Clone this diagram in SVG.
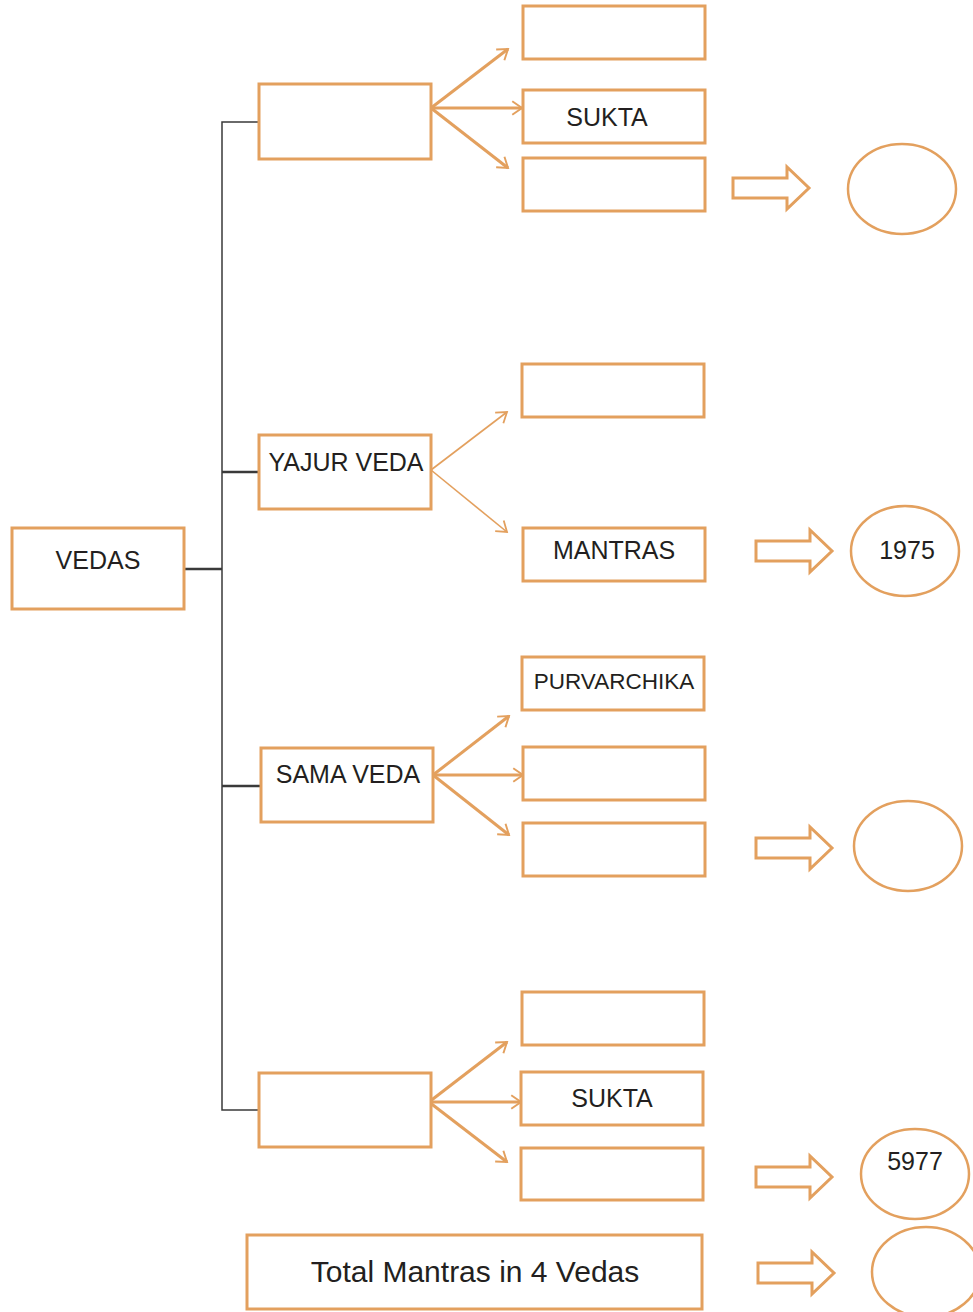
<svg xmlns="http://www.w3.org/2000/svg" width="973" height="1312" viewBox="0 0 973 1312">
  <defs>
    <style>
      .box { fill: #fff; stroke: #E3A05E; stroke-width: 3; }
      .oval { fill: #fff; stroke: #E3A05E; stroke-width: 2.5; }
      .block { fill: #fff; stroke: #E3A05E; stroke-width: 3; stroke-linejoin: miter; }
      .lbl { font-family: "Liberation Sans", Arial, sans-serif; font-size: 25px; fill: #231F20; text-anchor: middle; }
      .tree { stroke: #3a3a3a; fill: none; }
      .fan { stroke: #E3A05E; stroke-width: 3; fill: none; }
      .fan-thin { stroke: #E3A05E; stroke-width: 1.6; fill: none; }
    </style>
    <marker id="vhead" viewBox="0 0 10 10" refX="9" refY="5" markerWidth="7.5" markerHeight="7.5" markerUnits="userSpaceOnUse" orient="auto" overflow="visible">
      <path d="M-4,-4 L9,5 L-4,14" fill="none" stroke="#E3A05E" stroke-width="2.6"/>
    </marker>
    <marker id="vhead-thin" viewBox="0 0 10 10" refX="9" refY="5" markerWidth="7.5" markerHeight="7.5" markerUnits="userSpaceOnUse" orient="auto" overflow="visible">
      <path d="M-4,-4 L9,5 L-4,14" fill="none" stroke="#E3A05E" stroke-width="2.4"/>
    </marker>
    <path id="blockArrow" d="M0,-10 L54,-10 L54,-21 L76,0 L54,21 L54,10 L0,10 Z"/>
  </defs>

  <rect width="973" height="1312" fill="#fff"/>

  <!-- tree connectors -->
  <g id="connectors">
    <path class="tree" stroke-width="1.5" d="M259,122 H222 V1110 H259"/>
    <path class="tree" stroke-width="2.5" d="M184,569 H222"/>
    <path class="tree" stroke-width="2.5" d="M222,472 H259"/>
    <path class="tree" stroke-width="2.5" d="M222,786 H261"/>

    <!-- fans from each veda -->
    <line class="fan" x1="431" y1="108" x2="508" y2="49" marker-end="url(#vhead)"/>
    <line class="fan" x1="431" y1="108" x2="522" y2="108" marker-end="url(#vhead)"/>
    <line class="fan" x1="431" y1="108" x2="508" y2="168" marker-end="url(#vhead)"/>

    <line class="fan-thin" x1="431" y1="470" x2="507" y2="412" marker-end="url(#vhead-thin)"/>
    <line class="fan-thin" x1="431" y1="470" x2="507" y2="532" marker-end="url(#vhead-thin)"/>

    <line class="fan" x1="433" y1="775" x2="509" y2="716" marker-end="url(#vhead)"/>
    <line class="fan" x1="433" y1="775" x2="523" y2="775" marker-end="url(#vhead)"/>
    <line class="fan" x1="433" y1="775" x2="509" y2="835" marker-end="url(#vhead)"/>

    <line class="fan" x1="429" y1="1102" x2="507" y2="1042" marker-end="url(#vhead)"/>
    <line class="fan" x1="429" y1="1102" x2="521" y2="1102" marker-end="url(#vhead)"/>
    <line class="fan" x1="429" y1="1102" x2="507" y2="1162" marker-end="url(#vhead)"/>

    <!-- block arrows toward totals -->
    <use href="#blockArrow" class="block" transform="translate(733,188)"/>
    <use href="#blockArrow" class="block" transform="translate(756,551)"/>
    <use href="#blockArrow" class="block" transform="translate(756,848)"/>
    <use href="#blockArrow" class="block" transform="translate(756,1177)"/>
    <use href="#blockArrow" class="block" transform="translate(758,1273)"/>
  </g>

  <!-- root -->
  <g id="vedas">
    <rect class="box" x="12" y="528" width="172" height="81"/>
    <text class="lbl" x="98" y="569">VEDAS</text>
  </g>

  <!-- Rig -->
  <g id="rig-veda"><rect class="box" x="259" y="84" width="172" height="75"/></g>
  <g id="rig-1"><rect class="box" x="523" y="6" width="182" height="53"/></g>
  <g id="rig-sukta">
    <rect class="box" x="523" y="90" width="182" height="53"/>
    <text class="lbl" x="607" y="126">SUKTA</text>
  </g>
  <g id="rig-3"><rect class="box" x="523" y="158" width="182" height="53"/></g>
  <g id="rig-total"><ellipse class="oval" cx="902" cy="189" rx="54" ry="45"/></g>

  <!-- Yajur -->
  <g id="yajur-veda">
    <rect class="box" x="259" y="435" width="172" height="74"/>
    <text class="lbl" x="346" y="471">YAJUR VEDA</text>
  </g>
  <g id="yajur-1"><rect class="box" x="522" y="364" width="182" height="53"/></g>
  <g id="yajur-mantras">
    <rect class="box" x="523" y="528" width="182" height="53"/>
    <text class="lbl" x="614" y="559">MANTRAS</text>
  </g>
  <g id="yajur-total">
    <ellipse class="oval" cx="905" cy="551" rx="54" ry="45"/>
    <text class="lbl" x="907" y="559">1975</text>
  </g>

  <!-- Sama -->
  <g id="sama-veda">
    <rect class="box" x="261" y="748" width="172" height="74"/>
    <text class="lbl" x="348" y="783">SAMA VEDA</text>
  </g>
  <g id="sama-purvarchika">
    <rect class="box" x="522" y="657" width="182" height="53"/>
    <text class="lbl" x="614" y="689" style="font-size:22.5px">PURVARCHIKA</text>
  </g>
  <g id="sama-2"><rect class="box" x="523" y="747" width="182" height="53"/></g>
  <g id="sama-3"><rect class="box" x="523" y="823" width="182" height="53"/></g>
  <g id="sama-total"><ellipse class="oval" cx="908" cy="846" rx="54" ry="45"/></g>

  <!-- Atharva -->
  <g id="atharva-veda"><rect class="box" x="259" y="1073" width="172" height="74"/></g>
  <g id="atharva-1"><rect class="box" x="522" y="992" width="182" height="53"/></g>
  <g id="atharva-sukta">
    <rect class="box" x="521" y="1072" width="182" height="53"/>
    <text class="lbl" x="612" y="1107">SUKTA</text>
  </g>
  <g id="atharva-3"><rect class="box" x="521" y="1148" width="182" height="52"/></g>
  <g id="atharva-total">
    <ellipse class="oval" cx="915" cy="1174" rx="54" ry="45"/>
    <text class="lbl" x="915" y="1170">5977</text>
  </g>

  <!-- grand total -->
  <g id="grand-total">
    <rect class="box" x="247" y="1235" width="455" height="74"/>
    <text class="lbl" x="475" y="1282" style="font-size:30px">Total Mantras in 4 Vedas</text>
  </g>
  <g id="grand-total-value"><ellipse class="oval" cx="926" cy="1272" rx="54" ry="45"/></g>
</svg>
